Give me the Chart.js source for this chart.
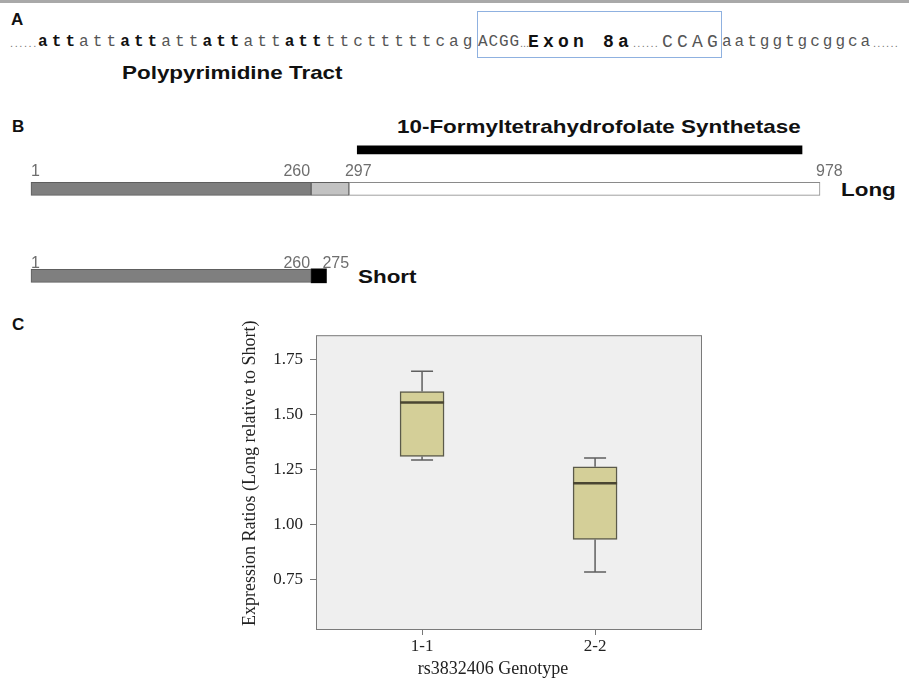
<!DOCTYPE html>
<html lang="en">
<head>
<meta charset="UTF-8">
<title>Exon 8a | Long vs Short</title>
<script src="https://cdn.jsdelivr.net/npm/chart.js"></script>
<style>
    body { margin: 0; background: #fff; }
    #fig { position: relative; width: 909px; height: 684px; overflow: hidden;
           font-family: "Liberation Sans", Arial, sans-serif; color: #111; }
    .topbar { position: absolute; left: 0; top: 0; width: 909px; height: 3px; background: #a9a9a9; }
    .panel { position: absolute; font-weight: bold; font-size: 17px; line-height: 1; }
    .seq { position: absolute; top: 33px; font-family: "Liberation Mono", "Courier New", monospace;
           font-size: 16px; line-height: 18px; color: #555; white-space: nowrap; }
    .seq b { color: #111; }
    .dots { position: absolute; top: 34px; font-size: 11px; line-height: 18px; color: #777;
            letter-spacing: 1.6px; white-space: nowrap; }
    .exonbox { position: absolute; left: 477px; top: 11px; width: 245px; height: 47px;
               box-sizing: border-box; border: 1px solid #8fb1e0; }
    .label { position: absolute; font-weight: bold; font-size: 19px; line-height: 1;
             white-space: nowrap; transform-origin: left center; transform: scaleX(1.18); }
    canvas { position: absolute; }
</style>
</head>
<body>
<div id="fig">
    <div class="topbar"></div>

    <!-- A -->
    <div class="panel" style="left:11px; top:11px">A</div>
    <div class="exonbox"></div>
    <span class="dots" style="left:10px">......</span>
    <span class="seq" style="left:38px; letter-spacing:4.1px"><b>att</b>att<b>att</b>att<b>att</b>att<b>att</b>ttctttttcag</span>
    <span class="seq" style="left:478px; letter-spacing:0.9px">ACGG</span>
    <span class="dots" style="left:520px; letter-spacing:0">...</span>
    <span class="seq" style="left:528px; font-size:18px; letter-spacing:4.2px"><b>Exon 8a</b></span>
    <span class="dots" style="left:633px; letter-spacing:1.3px">......</span>
    <span class="seq" style="left:662px; font-size:18px; letter-spacing:4.2px">CCAG</span>
    <span class="seq" style="left:722px; letter-spacing:3px">aatggtgcggca</span>
    <span class="dots" style="left:873px; letter-spacing:1.3px">......</span>
    <div class="label" style="left:122px; top:63px">Polypyrimidine Tract</div>

    <!-- B -->
    <div class="panel" style="left:12px; top:118px">B</div>
    <div class="label" style="left:397px; top:117px">10-Formyltetrahydrofolate Synthetase</div>
    <div class="label" style="left:841px; top:180px">Long</div>
    <div class="label" style="left:358px; top:267px">Short</div>
    <canvas id="isoformCanvas" width="909" height="200" style="left:0; top:100px"></canvas>

    <!-- C -->
    <div class="panel" style="left:12px; top:316px">C</div>
    <canvas id="ratioCanvas" width="482" height="366" style="left:230px; top:318px"></canvas>
</div>

<script>
    // panel B: isoform maps (residue numbers)
    const longMarks = [1, 260, 297, 978];
    const shortMarks = [1, 260, 275];
    const synthetaseDomain = [309, 952];

    // panel C: expression ratios by genotype
    const genotypes = ['1-1', '2-2'];
    const genotypePos = [1, 2];
    const whiskerLow = [1.295, 0.786];
    const quart1 = [1.311, 0.934];
    const medians = [1.556, 1.189];
    const quart3 = [1.605, 1.264];
    const whiskerHigh = [1.697, 1.304];
    const ratioTicks = [0.75, 1.00, 1.25, 1.50, 1.75];

    // the isoform map is a schematic, not to scale: piecewise linear axis
    class SchematicScale extends Chart.LinearScale {
        getPixelForValue(value) {
            const knots = this.options.knots;
            const stops = this.options.stops;
            let i = 0;
            while (i < knots.length - 2 && value > knots[i + 1]) i++;
            const t = (value - knots[i]) / (knots[i + 1] - knots[i]);
            const frac = stops[i] + t * (stops[i + 1] - stops[i]);
            return this.left + frac * this.width;
        }
    }
    SchematicScale.id = 'schematic';
    SchematicScale.defaults = Chart.LinearScale.defaults;
    Chart.register(SchematicScale);

    const tracks = { domain: 0, long: 1, short: 3.23 };

    const markLabels = {
        id: 'markLabels',
        afterDatasetsDraw(chart) {
            const { ctx, scales: { x, y } } = chart;
            ctx.save();
            ctx.font = '16px "Liberation Sans", Arial, sans-serif';
            ctx.fillStyle = '#6e6e6e';
            ctx.textBaseline = 'alphabetic';
            [[longMarks, tracks.long, 13, 6], [shortMarks, tracks.short, 14, 1]].forEach(([marks, row, h, gap]) => {
                const base = y.getPixelForValue(row) - h / 2 - gap;
                marks.forEach((m, i) => {
                    const px = x.getPixelForValue(m);
                    if (i === 0) { ctx.textAlign = 'left'; ctx.fillText(m, px, base); }
                    else if (i === 1) { ctx.textAlign = 'right'; ctx.fillText(m, px - 1, base); }
                    else { ctx.textAlign = 'left'; ctx.fillText(m, px - 4, base); }
                });
            });
            ctx.restore();
        }
    };

    new Chart(document.getElementById('isoformCanvas'), {
        type: 'bar',
        data: {
            datasets: [
                {
                    label: 'N-terminal (1-260)',
                    data: [{ x: [longMarks[0], longMarks[1]], y: tracks.long },
                           { x: [shortMarks[0], shortMarks[1]], y: tracks.short }],
                    backgroundColor: '#7f7f7f', borderColor: '#5e5e5e', borderWidth: 1, barThickness: 13
                },
                {
                    label: 'Exon 8a (long)',
                    data: [{ x: [longMarks[1], longMarks[2]], y: tracks.long }],
                    backgroundColor: '#c2c2c2', borderColor: '#5e5e5e', borderWidth: 1, barThickness: 13
                },
                {
                    label: 'C-terminal (long)',
                    data: [{ x: [longMarks[2], longMarks[3]], y: tracks.long }],
                    backgroundColor: '#ffffff', borderColor: '#8a8a8a', borderWidth: 1, barThickness: 13
                },
                {
                    label: 'Short tail',
                    data: [{ x: [shortMarks[1], shortMarks[2]], y: tracks.short }],
                    backgroundColor: '#000000', borderWidth: 0, barThickness: 14
                },
                {
                    label: '10-Formyltetrahydrofolate Synthetase',
                    data: [{ x: synthetaseDomain, y: tracks.domain }],
                    backgroundColor: '#000000', borderWidth: 0, barThickness: 8
                }
            ]
        },
        options: {
            indexAxis: 'y',
            responsive: false,
            animation: false,
            grouped: false,
            clip: false,
            layout: { padding: { left: 31, right: 89, top: 0, bottom: 0 } },
            borderSkipped: false,
            plugins: { legend: { display: false }, tooltip: { enabled: false } },
            scales: {
                x: { type: 'schematic', display: false, min: longMarks[0], max: longMarks[3],
                     knots: longMarks, stops: [0, 0.355, 0.403, 1] },
                y: { type: 'linear', display: false, reverse: true, offset: false, min: -1.28, max: 3.85 }
            }
        },
        plugins: [markLabels]
    });

    const boxPlot = {
        id: 'boxPlot',
        beforeDraw(chart) {
            const { ctx, chartArea: a } = chart;
            ctx.save();
            ctx.fillStyle = '#efefef';
            ctx.fillRect(a.left, a.top, a.right - a.left, a.bottom - a.top);
            ctx.restore();
        },
        afterDatasetsDraw(chart) {
            const { ctx, scales: { x, y } } = chart;
            const bars = chart.getDatasetMeta(0).data;
            ctx.save();
            genotypePos.forEach((g, i) => {
                const cx = x.getPixelForValue(g);
                const half = bars[i].width / 2;
                ctx.strokeStyle = '#5f5f5f';
                ctx.lineWidth = 1.5;
                ctx.beginPath();
                ctx.moveTo(cx, y.getPixelForValue(quart3[i]));
                ctx.lineTo(cx, y.getPixelForValue(whiskerHigh[i]));
                ctx.moveTo(cx, y.getPixelForValue(quart1[i]));
                ctx.lineTo(cx, y.getPixelForValue(whiskerLow[i]));
                ctx.moveTo(cx - half / 2, y.getPixelForValue(whiskerHigh[i]));
                ctx.lineTo(cx + half / 2, y.getPixelForValue(whiskerHigh[i]));
                ctx.moveTo(cx - half / 2, y.getPixelForValue(whiskerLow[i]));
                ctx.lineTo(cx + half / 2, y.getPixelForValue(whiskerLow[i]));
                ctx.stroke();
                ctx.strokeStyle = '#4a4632';
                ctx.lineWidth = 2.5;
                ctx.beginPath();
                ctx.moveTo(cx - half, y.getPixelForValue(medians[i]));
                ctx.lineTo(cx + half, y.getPixelForValue(medians[i]));
                ctx.stroke();
            });
            ctx.restore();
        },
        afterDraw(chart) {
            const { ctx, chartArea: a } = chart;
            ctx.save();
            ctx.strokeStyle = '#7a7a7a';
            ctx.lineWidth = 1;
            ctx.strokeRect(a.left + 0.5, a.top + 0.5, a.right - a.left - 1, a.bottom - a.top - 1);
            ctx.fillStyle = '#222';
            ctx.font = '18px "Liberation Serif", "Times New Roman", serif';
            ctx.textAlign = 'center';
            ctx.textBaseline = 'middle';
            ctx.fillText('rs3832406 Genotype', a.left + 177, a.bottom + 39);
            ctx.translate(a.left - 66, a.top + 138);
            ctx.rotate(-Math.PI / 2);
            ctx.fillText('Expression Ratios (Long relative to Short)', 0, 0);
            ctx.restore();
        }
    };

    new Chart(document.getElementById('ratioCanvas'), {
        type: 'bar',
        data: {
            datasets: [{
                label: 'Expression ratio',
                data: genotypePos.map((g, i) => ({ x: g, y: [quart1[i], quart3[i]] })),
                backgroundColor: '#d4cf98',
                borderColor: '#5b5a4a',
                borderWidth: 1.5,
                borderSkipped: false,
                barThickness: 44
            }]
        },
        options: {
            responsive: false,
            animation: false,
            grouped: false,
            layout: { padding: { left: 0, right: 10, top: 10, bottom: 0 } },
            plugins: { legend: { display: false }, tooltip: { enabled: false } },
            scales: {
                x: {
                    type: 'linear', min: 0.387, max: 2.618, offset: false,
                    afterBuildTicks: s => { s.ticks = genotypePos.map(v => ({ value: v })); },
                    afterFit: s => { s.height = 54; },
                    grid: { offset: false, drawOnChartArea: false, drawTicks: true, tickLength: 5, color: '#777' },
                    border: { display: false },
                    ticks: {
                        padding: 1, color: '#222',
                        font: { family: '"Liberation Serif", "Times New Roman", serif', size: 17 },
                        callback: v => genotypes[genotypePos.indexOf(v)]
                    }
                },
                y: {
                    min: 0.523, max: 1.861,
                    afterBuildTicks: s => { s.ticks = ratioTicks.map(v => ({ value: v })); },
                    afterFit: s => { s.width = 86; },
                    grid: { drawOnChartArea: false, drawTicks: true, tickLength: 6, color: '#777' },
                    border: { display: false },
                    ticks: {
                        padding: 7, color: '#222',
                        font: { family: '"Liberation Serif", "Times New Roman", serif', size: 17 },
                        callback: v => v.toFixed(2)
                    }
                }
            }
        },
        plugins: [boxPlot]
    });
</script>
</body>
</html>
